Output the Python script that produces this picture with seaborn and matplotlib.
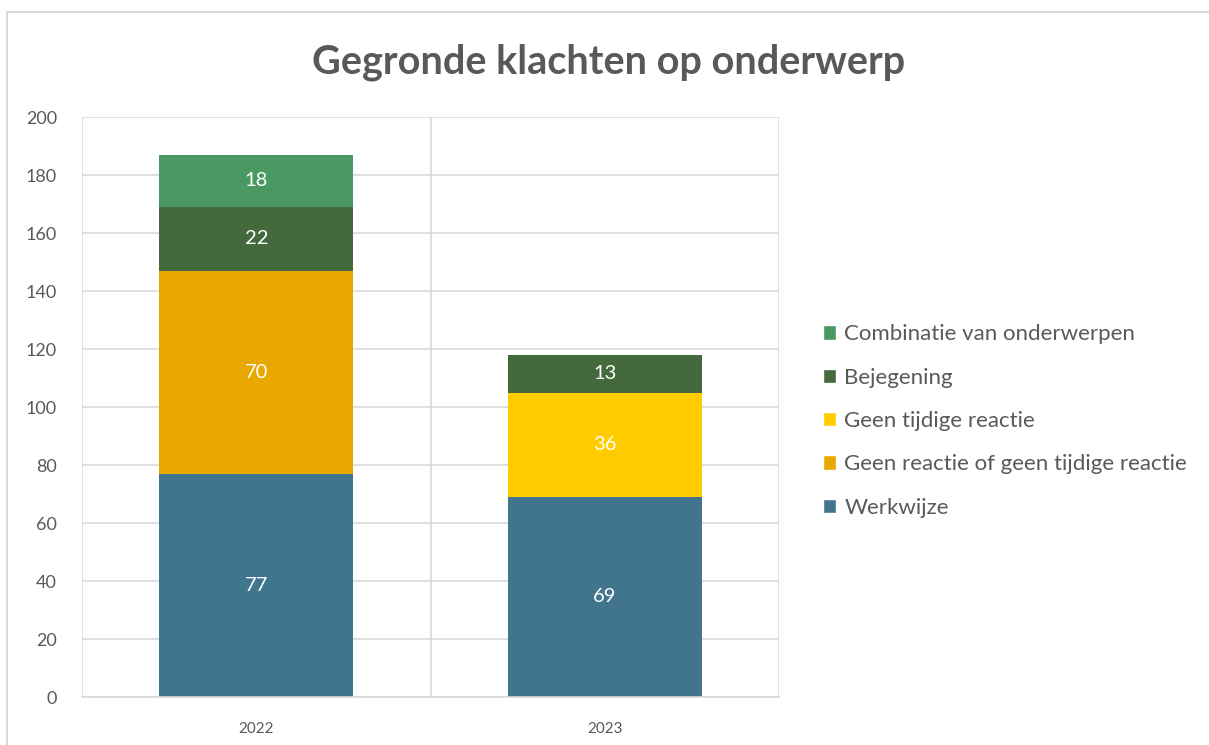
import numpy as np
import pandas as pd
import matplotlib.pyplot as plt
import seaborn as sns
from matplotlib.patches import Rectangle, Patch

# Gegevens
jaren = ['2022', '2023']
onderwerpen = ['Werkwijze', 'Geen reactie of geen tijdige reactie', 'Geen tijdige reactie',
               'Bejegening', 'Combinatie van onderwerpen']
werkwijze = [77, 69]
geen_reactie = [70, 0]
geen_tijdig = [0, 36]
bejegening = [22, 13]
combinatie = [18, 0]
kleuren = ['#41748D', '#E9A800', '#FFCC00', '#43693C', '#4A9963']

sns.set_theme(style='white')
plt.rcParams['font.family'] = ['Lato', 'DejaVu Sans']

df = pd.DataFrame({'Jaar': jaren, onderwerpen[0]: werkwijze, onderwerpen[1]: geen_reactie,
                   onderwerpen[2]: geen_tijdig, onderwerpen[3]: bejegening,
                   onderwerpen[4]: combinatie})
cum = df[onderwerpen].cumsum(axis=1)

fig = plt.figure(figsize=(12.09, 7.45), dpi=100)
fig.patches.append(Rectangle((7 / 1209, -0.1), 1.2, 1.1 - 12 / 745, transform=fig.transFigure,
                             fill=False, edgecolor='#D9D9D9', linewidth=1.5, zorder=0))
ax = fig.add_axes([82 / 1209, 1 - 697 / 745, (779 - 82) / 1209, (697 - 117) / 745])

# gestapelde balken: cumulatieve totalen van boven naar beneden tekenen
for i in range(len(onderwerpen) - 1, -1, -1):
    sns.barplot(x=df['Jaar'], y=cum[onderwerpen[i]], color=kleuren[i], width=0.557,
                linewidth=0, saturation=1, ax=ax, zorder=2)

# waarden in de segmenten
for j in range(len(jaren)):
    onder = 0
    for i, o in enumerate(onderwerpen):
        v = df[o][j]
        if v > 0:
            ax.text(j, onder + v / 2, str(v), ha='center', va='center', color='white',
                    fontsize=14.5, zorder=3)
        onder += v

ax.set_ylim(0, 200)
ax.set_xlim(-0.5, 1.5)
ax.set_yticks(range(0, 201, 20))
ax.set_xticks([-0.5, 0.5, 1.5], minor=True)
ax.grid(axis='y', color='#D9D9D9', linewidth=1.2, zorder=0)
ax.grid(axis='x', which='minor', color='#D9D9D9', linewidth=1.2, zorder=0)
ax.set_axisbelow(True)
for s in ['top', 'right', 'left']:
    ax.spines[s].set_visible(False)
ax.spines['bottom'].set_color('#D9D9D9')
ax.spines['bottom'].set_linewidth(1.2)
ax.tick_params(axis='y', labelsize=13, labelcolor='#595959', length=0, pad=18)
ax.tick_params(axis='x', which='major', labelsize=11, labelcolor='#595959', length=0, pad=18)
ax.tick_params(axis='x', which='minor', length=0)
ax.set_xlabel('')
ax.set_ylabel('')

fig.text(609 / 1209, 1 - 62 / 745, 'Gegronde klachten op onderwerp', ha='center', va='center',
         fontsize=28.5, fontweight='bold', color='#595959')

handles = [Patch(facecolor=kleuren[i], label=onderwerpen[i]) for i in range(len(onderwerpen) - 1, -1, -1)]
fig.legend(handles=handles, loc='center left', bbox_to_anchor=(812 / 1209, 1 - 421 / 745),
           frameon=False, fontsize=16, labelcolor='#595959', handlelength=0.6,
           handleheight=0.6, handletextpad=0.35, labelspacing=1.05, borderpad=0)

fig.savefig('out.png', dpi=100)
